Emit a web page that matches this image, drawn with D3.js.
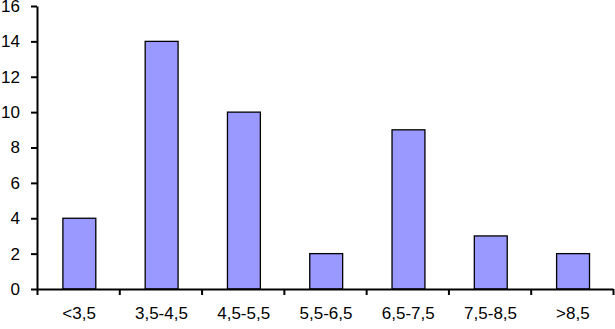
<!DOCTYPE html>
<html>
<head>
<meta charset="utf-8">
<script src="https://cdn.jsdelivr.net/npm/d3@7"></script>
<style>
  body { margin: 0; background: #fff; }
  .axis path, .axis line { stroke: #000; stroke-width: 2px; }
  .axis text { font-family: "Liberation Sans", Arial, sans-serif; font-size: 17px; fill: #000; }
</style>
</head>
<body>
<div class="graph"></div>
<script>
var categories = ["<3,5", "3,5-4,5", "4,5-5,5", "5,5-6,5", "6,5-7,5", "7,5-8,5", ">8,5"];
var values = [4, 14, 10, 2, 9, 3, 2];
var yTicks = [0, 2, 4, 6, 8, 10, 12, 14, 16];

var width = 615, height = 329;
var margin = { top: 6, right: 2, bottom: 40, left: 37 };
var w = width - margin.left - margin.right;
var h = height - margin.top - margin.bottom;

var svg = d3.select(".graph").append("svg")
    .attr("width", width).attr("height", height);

var g = svg.append("g").attr("transform", "translate(" + margin.left + "," + margin.top + ")");

// bars sit a touch right of band centre in the original
var x = d3.scaleBand().domain(categories).range([1.2, w + 1.2]).paddingInner(0.6).paddingOuter(0.3);
var xb = d3.scaleLinear().domain([0, categories.length]).range([0, w]);
var y = d3.scaleLinear().domain([0, 16]).range([h, 0]);

// bars
g.selectAll("rect.bar").data(values).enter().append("rect")
  .attr("class", "bar")
  .attr("x", function (d, i) { return x(categories[i]); })
  .attr("y", function (d) { return y(d); })
  .attr("width", x.bandwidth())
  .attr("height", function (d) { return h - y(d); })
  .attr("fill", "#9999ff")
  .attr("stroke", "#000")
  .attr("stroke-width", 1.3);

// y axis
g.append("g").attr("class", "axis axis--y")
  .call(d3.axisLeft(y).tickValues(yTicks).tickSize(6).tickSizeOuter(0).tickPadding(11));

// x axis: ticks at category boundaries, labels centered
var xa = g.append("g").attr("class", "axis axis--x").attr("transform", "translate(0," + h + ")");
xa.call(d3.axisBottom(xb).tickValues(d3.range(0, categories.length + 1)).tickSize(6).tickSizeOuter(0).tickFormat(""));
xa.selectAll(".lbl").data(categories).enter().append("text")
  .attr("class", "lbl")
  .attr("x", function (d) { return xb(categories.indexOf(d) + 0.5) + 1; })
  .attr("y", 30)
  .attr("text-anchor", "middle")
  .text(function (d) { return d; });
</script>
</body>
</html>
